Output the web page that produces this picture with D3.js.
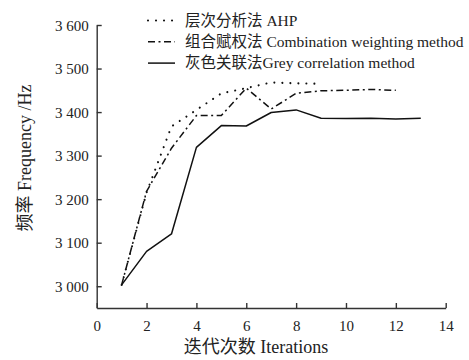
<!DOCTYPE html>
<html>
<head>
<meta charset="utf-8">
<script src="https://cdn.jsdelivr.net/npm/d3@7"></script>
<style>
  html, body { margin: 0; padding: 0; background: #fff; }
  svg { display: block; }
  text { font-family: "Liberation Serif", "Noto Sans CJK SC", serif; fill: #222; }
</style>
</head>
<body>
<script>
// Iteration counts and the frequency reached by each weighting method
const iterations = [1, 2, 3, 4, 5, 6, 7, 8, 9, 10, 11, 12, 13];
const ahpValues = [3003, 3215, 3367, 3405, 3443, 3455, 3468, 3466, 3465];
const combinationValues = [3003, 3218, 3317, 3392, 3392, 3455, 3407, 3443, 3449, 3450, 3452, 3450];
const greyValues = [3003, 3080, 3120, 3319, 3369, 3368, 3399, 3405, 3386, 3385, 3386, 3384, 3386];

const xTicks = [0, 2, 4, 6, 8, 10, 12, 14];
const yTicks = [3000, 3100, 3200, 3300, 3400, 3500, 3600];

const seriesNames = ["层次分析法 AHP", "组合赋权法 Combination weighting method", "灰色关联法Grey correlation method"];
const xTitle = "迭代次数 Iterations";
const yTitle = "频率 Frequency /Hz";

const W = 469, H = 360;
const svg = d3.select("body").append("svg").attr("width", W).attr("height", H);

const x = d3.scaleLinear().domain([0, 14]).range([96.7, 445.7]);
const y = d3.scaleLinear().domain([2950, 3600]).range([308, 25]);

const axisColor = "#333";

// x axis, ticks pointing into the plot
const gx = svg.append("g").attr("transform", `translate(0,${y(2950)})`)
  .call(d3.axisBottom(x).tickValues(xTicks).tickSize(-5).tickPadding(12).tickSizeOuter(0).tickFormat(d3.format("d")));
// y axis, ticks pointing into the plot
const gy = svg.append("g").attr("transform", `translate(${x(0)},0)`)
  .call(d3.axisLeft(y).tickValues(yTicks).tickSize(-5).tickPadding(8).tickSizeOuter(0)
    .tickFormat(d => String(d).replace(/^(\d)(\d{3})$/, "$1 $2")));

[gx, gy].forEach(g => {
  g.select(".domain").attr("stroke", axisColor).attr("stroke-width", 1.4);
  g.selectAll(".tick line").attr("stroke", axisColor).attr("stroke-width", 1.4);
  g.selectAll(".tick text").attr("font-size", 15).attr("fill", "#222")
    .style("font-family", "'Liberation Serif', serif");
});
gy.selectAll(".tick text").attr("dy", "0.34em");

const series = [
  { name: seriesNames[0], values: ahpValues, dash: "0.01,8", cap: "round", width: 2.1 },
  { name: seriesNames[1], values: combinationValues, dash: "7,3.5,2,3.5", cap: "butt", width: 1.5 },
  { name: seriesNames[2], values: greyValues, dash: null, cap: "butt", width: 1.5 }
];

const line = d3.line().x((d, i) => x(iterations[i])).y(d => y(d));

series.forEach(s => {
  svg.append("path")
    .datum(s.values)
    .attr("d", line)
    .attr("fill", "none")
    .attr("stroke", "#111")
    .attr("stroke-width", s.width)
    .attr("stroke-linecap", s.cap)
    .attr("stroke-linejoin", "round")
    .attr("stroke-dasharray", s.dash);
});

// legend
const legend = svg.append("g");
series.forEach((s, i) => {
  const cy = 20.5 + i * 21.3;
  legend.append("line")
    .attr("x1", 148).attr("x2", 175).attr("y1", cy).attr("y2", cy)
    .attr("stroke", "#111")
    .attr("stroke-width", s.width)
    .attr("stroke-linecap", s.cap)
    .attr("stroke-dasharray", s.dash);
  legend.append("text")
    .attr("x", 185).attr("y", cy + 5)
    .attr("font-size", 15.5)
    .text(s.name);
});

// axis titles
svg.append("text")
  .attr("x", 256).attr("y", 353)
  .attr("text-anchor", "middle")
  .attr("font-size", 18)
  .text(xTitle);

svg.append("text")
  .attr("transform", "translate(31,158) rotate(-90)")
  .attr("text-anchor", "middle")
  .attr("font-size", 18)
  .text(yTitle);
</script>
</body>
</html>
